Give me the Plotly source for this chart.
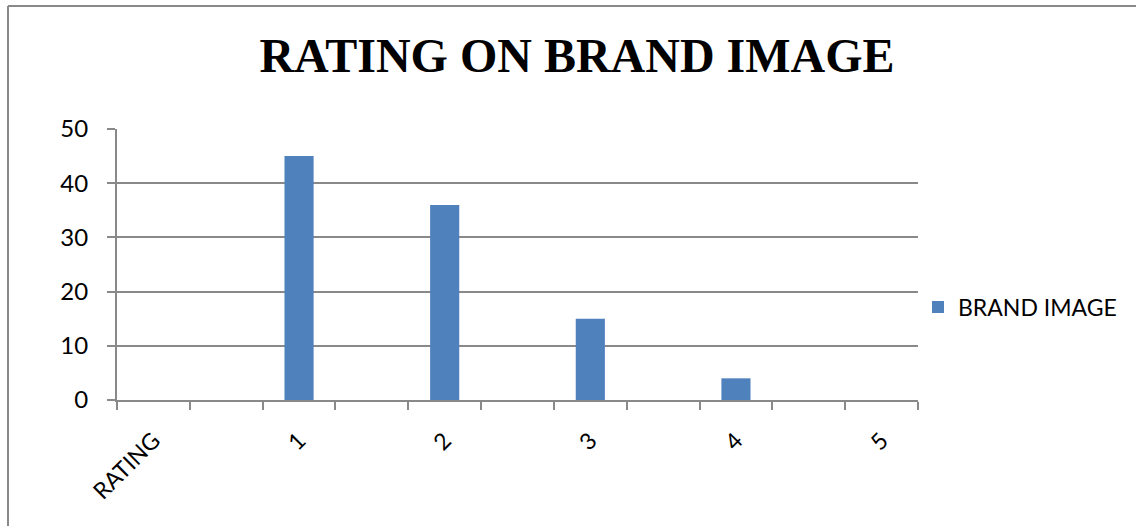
import plotly.graph_objects as go

# ---- data ----
rating_labels = ["RATING", "1", "2", "3", "4", "5"]
brand_image = [None, 45, 36, 15, 4, None]
series_name = "BRAND IMAGE"
chart_title = "RATING ON BRAND IMAGE"
y_ticks = [0, 10, 20, 30, 40, 50]

# Excel-style layout: one unlabeled slot between each labeled category
categories, values, texts = [], [], []
for i, (lab, v) in enumerate(zip(rating_labels, brand_image)):
    if i > 0:
        categories.append("gap%d" % i)
        values.append(None)
        texts.append("")
    categories.append(lab)
    values.append(v)
    texts.append(lab)

W, H = 1136, 526
L, R, T, B = 117, 918, 129, 400  # plot area in pixels

def px(x):
    return (x - L) / (R - L)

def py(y):
    return (B - y) / (B - T)

grey = "#898989"
font_family = "Lato, 'Open Sans', sans-serif"

fig = go.Figure()
fig.add_trace(go.Bar(
    x=categories, y=values, name=series_name,
    marker=dict(color="#4F81BD", line=dict(width=0)),
    showlegend=True,
))

fig.update_layout(
    width=W, height=H,
    margin=dict(l=L, r=W - R, t=T, b=H - B, autoexpand=False),
    paper_bgcolor="white", plot_bgcolor="white",
    bargap=0.6,
    title=dict(text="<b>" + chart_title + "</b>", x=577 / W, xref="container",
               xanchor="center", y=1 - 55 / H, yanchor="middle",
               font=dict(family="'Liberation Serif', 'Times New Roman', serif", size=48, color="black")),
    font=dict(family=font_family, size=22, color="black"),
    showlegend=True,
    legend=dict(x=px(918), xanchor="left", y=py(307), yanchor="middle",
                font=dict(family=font_family, size=23, color="black"),
                itemwidth=30, bgcolor="rgba(0,0,0,0)"),
    xaxis=dict(
        type="category", categoryorder="array", categoryarray=categories,
        tickmode="array", tickvals=categories, ticktext=texts,
        tickangle=-45, tickson="boundaries", ticks="outside", ticklen=8,
        tickcolor=grey, tickwidth=2,
        showline=True, linecolor=grey, linewidth=2,
        showgrid=False, zeroline=False,
        ticklabelstandoff=16,
        tickfont=dict(family=font_family, size=23, color="black"),
        range=[-0.5, len(categories) - 0.5],
    ),
    yaxis=dict(
        range=[0, 50], tickmode="array", tickvals=y_ticks,
        ticks="outside", ticklen=8, tickcolor=grey, tickwidth=2,
        showline=True, linecolor=grey, linewidth=2,
        showgrid=True, gridcolor=grey, gridwidth=2,
        zeroline=False,
        ticklabelstandoff=14,
        tickfont=dict(family=font_family, size=24, color="black"),
    ),
)

# outer chart frame (left and top edges visible)
fig.add_shape(type="line", xref="paper", yref="paper",
              x0=px(8), x1=px(W + 5), y0=py(6), y1=py(6),
              line=dict(color=grey, width=2))
fig.add_shape(type="line", xref="paper", yref="paper",
              x0=px(8), x1=px(8), y0=py(6), y1=py(H + 5),
              line=dict(color=grey, width=2))

fig.write_html("out.html", config={"displayModeBar": False},
               post_script="document.body.style.margin='0';document.body.style.overflow='hidden';")
